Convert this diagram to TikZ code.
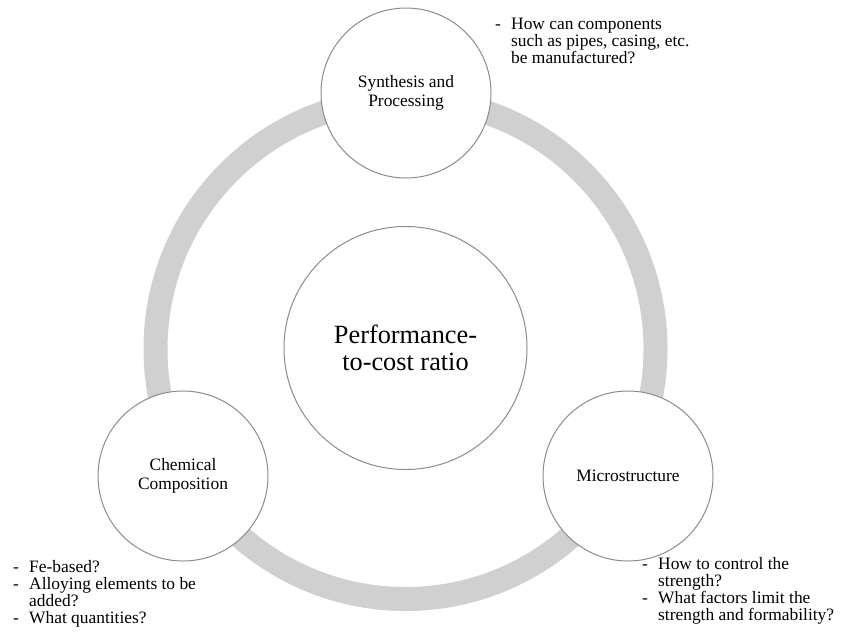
\documentclass[tikz,border=0pt]{standalone}
\usepackage{fontspec}
\setmainfont{Liberation Serif}
\usepackage{array}
\definecolor{ringgray}{HTML}{D0D0D0}
\definecolor{edgegray}{HTML}{8C8C8C}
\tikzset{
    bubble/.style={circle,draw=edgegray,line width=1pt,fill=white,align=center,
    inner sep=0pt,minimum size=170pt,font=\fontsize{17.4}{19}\selectfont},
    question/.style={anchor=base west,inner sep=0pt,font=\fontsize{17.4}{17}\selectfont}
}
\newcommand{\qlist}[1]{\begin{tabular}[t]{@{}p{16pt}@{}l@{}}#1\end{tabular}}

\begin{document}
\begin{tikzpicture}[x=1pt,y=-1pt]
\useasboundingbox (0,0) rectangle (845,641);
\coordinate (O) at (405.5,349);
\draw[ringgray,line width=24pt] (O) circle (250);
\node[bubble,minimum size=243pt,font=\fontsize{26.3}{27}\selectfont] (perf) at (405.5,348) {Performance-\\to-cost ratio};
\node[bubble] (synth) at (406,93) {Synthesis and\\Processing};
\node[bubble] (chem) at (183,476) {Chemical\\Composition};
\node[bubble] (micro) at (628,476) {Microstructure};
\node[question] (qsynth) at (495,29) {\qlist{-&How can components\\&such as pipes, casing, etc.\\&be manufactured?}};
\node[question] (qchem) at (13,572) {\qlist{-&Fe-based?\\-&Alloying elements to be\\&added?\\-&What quantities?}};
\node[question] (qmicro) at (642,569) {\qlist{-&How to control the\\&strength?\\-&What factors limit the\\&strength and formability?}};
\end{tikzpicture}
\end{document}
